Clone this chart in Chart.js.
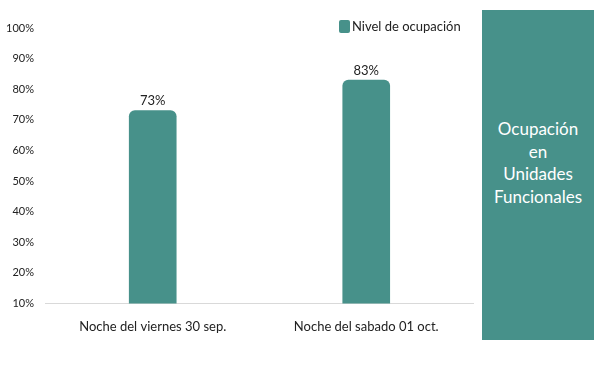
<!DOCTYPE html>
<html>
<head>
<meta charset="utf-8">
<script src="https://cdn.jsdelivr.net/npm/chart.js@4.4.0/dist/chart.umd.min.js"></script>
<style>
  body { margin: 0; background: #fff; font-family: Lato, "Open Sans", sans-serif; }
  #wrap { position: relative; width: 606px; height: 370px; }
  #chartBox { position: absolute; left: 0; top: 0; width: 480px; height: 345px; }
  #legend { position: absolute; left: 339px; top: 18px; font-size: 13px; color: #222; display: flex; align-items: center; }
  #legend span.sw { display: inline-block; width: 11px; height: 13px; border-radius: 2px; background: #47918A; margin-right: 2px; }
  #side { position: absolute; left: 482px; top: 10px; width: 112px; height: 330px; background: #47918A;
          color: #fff; font-size: 17px; line-height: 22.5px; text-align: center; box-sizing: border-box;
          padding-bottom: 24px;
          display: flex; align-items: center; justify-content: center; }
</style>
</head>
<body>
<div id="wrap">
  <div id="chartBox"><canvas id="myChart"></canvas></div>
  <div id="legend"><span class="sw"></span>Nivel de ocupación</div>
  <div id="side"><div>Ocupación<br>en<br>Unidades<br>Funcionales</div></div>
</div>
<script>
const categorias = ['Noche del viernes 30 sep.', 'Noche del sabado 01 oct.'];
const ocupacion = [73, 83];
const serieNombre = 'Nivel de ocupación';

// etiquetas encima de cada barra
const etiquetas = {
  id: 'etiquetas',
  afterDatasetsDraw(chart) {
    const ctx = chart.ctx;
    const meta = chart.getDatasetMeta(0);
    ctx.save();
    ctx.font = '13px Lato, "Open Sans", sans-serif';
    ctx.fillStyle = '#222';
    ctx.textAlign = 'center';
    ctx.textBaseline = 'bottom';
    meta.data.forEach((bar, i) => {
      ctx.fillText(ocupacion[i] + '%', bar.x, bar.y - 3);
    });
    ctx.restore();
  }
};

const data = {
  labels: categorias,
  datasets: [{
    label: serieNombre,
    data: ocupacion,
    backgroundColor: '#47918A',
    barThickness: 47,
    borderRadius: { topLeft: 6, topRight: 6, bottomLeft: 0, bottomRight: 0 },
    borderSkipped: false
  }]
};

const config = {
  type: 'bar',
  data: data,
  plugins: [etiquetas],
  options: {
    responsive: true,
    maintainAspectRatio: false,
    animation: false,
    layout: { padding: { top: 28, left: 2, right: 7, bottom: 2 } },
    plugins: { legend: { display: false }, tooltip: { enabled: false } },
    scales: {
      x: {
        grid: { display: false },
        border: { color: '#d9d9d9' },
        ticks: { color: '#222', font: { size: 13, family: 'Lato, "Open Sans", sans-serif' }, padding: 8 }
      },
      y: {
        min: 10,
        max: 100,
        grid: { display: false },
        border: { display: false },
        ticks: {
          stepSize: 10,
          color: '#222',
          font: { size: 11, family: 'Lato, "Open Sans", sans-serif' },
          padding: 4,
          callback: v => v + '%'
        }
      }
    }
  }
};

new Chart(document.getElementById('myChart'), config);
</script>
</body>
</html>
